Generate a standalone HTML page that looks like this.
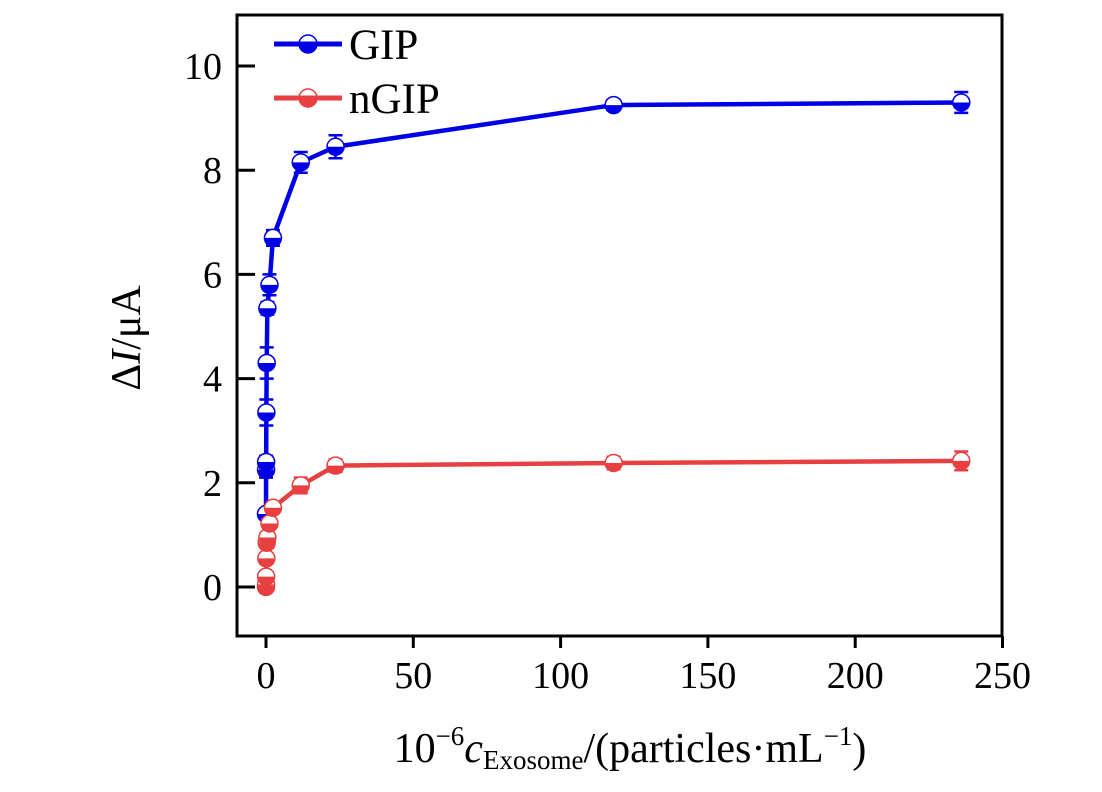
<!DOCTYPE html>
<html><head><meta charset="utf-8"><style>
html,body{margin:0;padding:0;background:#fff;}
svg text{font-family:"Liberation Serif",serif;fill:#000;}
</style></head><body>
<svg id="chart" width="1102" height="787" viewBox="0 0 1102 787" xmlns="http://www.w3.org/2000/svg">
<g id="plot"></g>
<rect x="237" y="15" width="765" height="621" fill="none" stroke="#000" stroke-width="3"/>
<g id="axes"></g>
<text transform="translate(140,338) rotate(-90)" text-anchor="middle" font-size="42">Δ<tspan font-style="italic">I</tspan>/μA</text>
<text x="630" y="762" text-anchor="middle" font-size="42">10<tspan font-size="27" dy="-17">−6</tspan><tspan dy="17" font-style="italic">c</tspan><tspan font-size="27" dy="7">Exosome</tspan><tspan dy="-7">/(particles·mL</tspan><tspan font-size="27" dy="-17">−1</tspan><tspan dy="17">)</tspan></text>
<g>
<g>
<line x1="274" y1="44" x2="342" y2="44" stroke="#0000e6" stroke-width="5"/>
<path d="M299,44 A9,9 0 0,0 317,44 Z" fill="#0000e6"/><circle cx="308" cy="44" r="9" fill="none" stroke="#0000e6" stroke-width="1.5"/>
<text x="349" y="59" font-size="43">GIP</text></g>
<g>
<line x1="274" y1="98" x2="342" y2="98" stroke="#e84040" stroke-width="5"/>
<path d="M299,98 A9,9 0 0,0 317,98 Z" fill="#e84040"/><circle cx="308" cy="98" r="9" fill="none" stroke="#e84040" stroke-width="1.5"/>
<text x="349" y="113" font-size="43">nGIP</text></g>
</g>
</svg>
<script>
const xVals=[0,0.024,0.047,0.118,0.236,0.47,1.18,2.36,11.8,23.6,118,236];
const gipVals=[1.4,2.25,2.4,3.35,4.3,5.35,5.8,6.7,8.15,8.45,9.25,9.3];
const gipErr=[0.1,0.15,0.12,0.25,0.3,0.12,0.2,0.15,0.2,0.22,0.1,0.2];
const ngipVals=[0,0.05,0.2,0.55,0.85,0.95,1.22,1.52,1.95,2.33,2.38,2.42];
const ngipErr=[0.05,0.08,0.08,0.1,0.1,0.08,0.1,0.08,0.15,0.12,0.12,0.18];
const xTicks=[0,50,100,150,200,250];
const yTicks=[0,2,4,6,8,10];
const X=v=>266+v*2.946;
const Y=v=>587-v*52.1;
const NS="http://www.w3.org/2000/svg";
const plot=document.getElementById('plot'),axes=document.getElementById('axes');
function mk(tag,attrs,parent){const e=document.createElementNS(NS,tag);for(const k in attrs)e.setAttribute(k,attrs[k]);parent.appendChild(e);return e;}
xTicks.forEach(t=>{
 const l=mk('line',{x1:X(t),x2:X(t),y1:636,y2:648,stroke:'#000','stroke-width':3},axes);
 
 
 const tx=mk('text',{x:X(t),y:688,'text-anchor':'middle','font-size':38},axes);tx.textContent=t;
 
 
});
yTicks.forEach(t=>{
 const l=mk('line',{x1:237,x2:255,y1:Y(t),y2:Y(t),stroke:'#000','stroke-width':3},axes);
 
 
 const tx=mk('text',{x:222,y:Y(t)+13,'text-anchor':'end','font-size':38},axes);tx.textContent=t;
 
 
});
function series(vals,errs,color,name){
 const g=mk('g',{},plot);
 
 
 const pl=mk('polyline',{points:vals.map((v,i)=>X(xVals[i])+','+Y(v)).join(' '),fill:'none',stroke:color,'stroke-width':4.5,'stroke-linejoin':'round'},g);
 
 
 vals.forEach((v,i)=>{
  const cx=X(xVals[i]),cy=Y(v),e=errs[i];
  const eb=mk('path',{d:`M${cx},${Y(v+e)}V${Y(v-e)}M${cx-7},${Y(v+e)}H${cx+7}M${cx-7},${Y(v-e)}H${cx+7}`,stroke:color,'stroke-width':2.5,fill:'none'},g);
  
  
  const c=mk('circle',{cx:cx,cy:cy,r:8.5,fill:'#fff',stroke:color,'stroke-width':1.5},g);
  
  
  const h=mk('path',{d:`M${cx-8.5},${cy} A8.5,8.5 0 0,0 ${cx+8.5},${cy} Z`,fill:color},g);
  
  
 });
}
series(gipVals,gipErr,'#0000e6','gip');
series(ngipVals,ngipErr,'#e84040','ngip');
</script>
</body></html>
